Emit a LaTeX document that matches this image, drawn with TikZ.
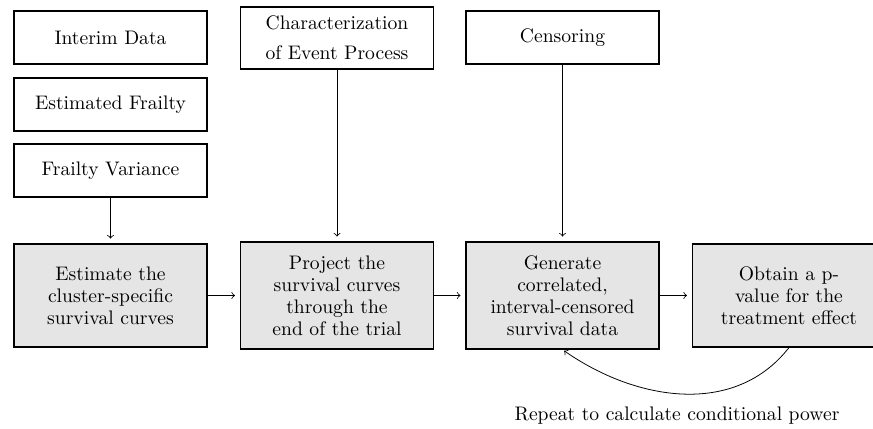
\documentclass[tikz,border=0pt]{standalone}
\begin{document}
\begin{tikzpicture}[x=0.5102pt,y=-0.5102pt,
  topbox/.style={draw, semithick, minimum width=98.5pt, minimum height=27pt, align=center, inner sep=2pt},
  stepbox/.style={draw, semithick, fill=gray!20, minimum width=98.5pt, align=center, inner sep=2pt, font=\fontsize{10}{11.2}\selectfont},
  conn/.style={->, thin, shorten >=2.5pt}]
\useasboundingbox (0,0) rectangle (873,428);
% top inputs
\node[topbox] (interim) at (110.5,37.5) {Interim Data};
\node[topbox] (frailty) at (110.5,104.5) {Estimated Frailty};
\node[topbox] (fvar) at (110.5,170.5) {Frailty Variance};
\node[topbox, minimum height=31.6pt, font=\fontsize{10}{15.4}\selectfont] (charac) at (337,38) {Characterization\\of Event Process};
\node[topbox] (cens) at (562.5,37.5) {Censoring};
% process steps
\node[stepbox, minimum height=52.5pt] (est) at (110.5,295.5) {Estimate the\\cluster-specific\\survival curves};
\node[stepbox, minimum height=54.6pt] (proj) at (337,295.5) {Project the\\survival curves\\through the\\end of the trial};
\node[stepbox, minimum height=54.6pt] (gen) at (562.5,295.5) {Generate\\correlated,\\interval-censored\\survival data};
\node[stepbox, minimum height=52.5pt] (obt) at (789,295.5) {Obtain a p-\\value for the\\treatment effect};
% connectors
\draw[conn] (fvar) -- (est);
\draw[conn] (charac) -- (proj);
\draw[conn] (cens) -- (gen);
\draw[conn] (est) -- (proj);
\draw[conn] (proj) -- (gen);
\draw[conn] (gen) -- (obt);
\draw[->, thin, shorten >=1pt] (obt.south) to[out=-128, in=-35] (gen.south);
\node[anchor=base] (rep) at (677,420) {Repeat to calculate conditional power};
\end{tikzpicture}
\end{document}
